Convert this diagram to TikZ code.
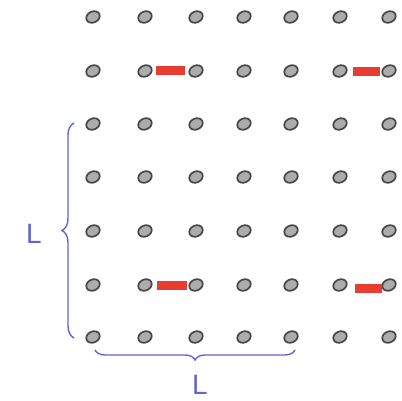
\documentclass[tikz,border=0pt]{standalone}
\usepackage{fontspec}
\setsansfont{Liberation Sans}
\usetikzlibrary{decorations.pathreplacing,shapes.geometric}
\definecolor{braceblue}{RGB}{95,100,215}
\definecolor{barred}{RGB}{232,62,50}
\tikzset{
  dot/.style={ellipse, minimum width=14pt, minimum height=11pt, inner sep=0pt,
    rotate=25, fill=gray!65, draw=black!72, line width=1.7pt},
  redbar/.style={draw=barred, line width=9pt},
  bracestyle/.style={draw=braceblue, line width=1.4pt,
    decorate, decoration={brace, amplitude=12pt}},
  lab/.style={text=braceblue, font=\sffamily\fontsize{28}{28}\selectfont, inner sep=0pt}
}
\begin{document}
\begin{tikzpicture}[x=1pt,y=-1pt]
\useasboundingbox (0,0) rectangle (402,401);
\foreach \c/\x in {1/93,2/145,3/196,4/244,5/291,6/340,7/389}{
  \foreach \r/\y in {1/17,2/71,3/124,4/177,5/231,6/285,7/337}{
    \node[dot] (d-\r-\c) at (\x,\y) {};
  }
}
\draw[redbar] ([xshift=11pt]d-2-2.center) -- ([xshift=-11pt]d-2-3.center);
\draw[redbar] ([xshift=13pt,yshift=-1pt]d-2-6.center) -- ([xshift=-9pt,yshift=-1pt]d-2-7.center);
\draw[redbar] ([xshift=12pt]d-6-2.center) -- ([xshift=-9pt]d-6-3.center);
\draw[redbar] ([xshift=15pt,yshift=-3pt]d-6-6.center) -- ([xshift=-7pt,yshift=-3pt]d-6-7.center);
\coordinate (vb1) at (74,338);
\coordinate (vb2) at (74,123);
\coordinate (hb1) at (295,350);
\coordinate (hb2) at (95,350);
\draw[bracestyle] (vb1) -- (vb2);
\draw[bracestyle, decoration={amplitude=10pt}] (hb1) -- (hb2);
\node[lab] (lv) at (34,234) {L};
\node[lab] (lh) at (200,385) {L};
\end{tikzpicture}
\end{document}
